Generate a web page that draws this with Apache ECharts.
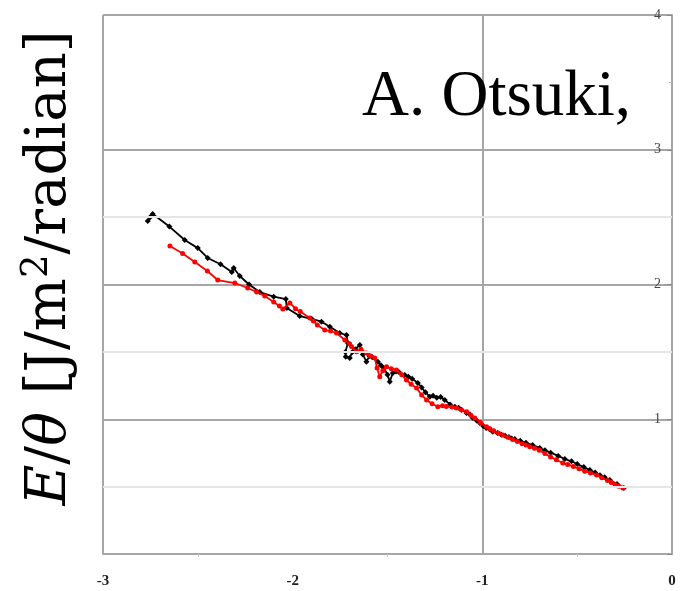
<!DOCTYPE html>
<html>
<head>
<meta charset="utf-8">
<script src="https://cdn.jsdelivr.net/npm/echarts@6/dist/echarts.min.js"></script>
<style>
  html, body { margin: 0; padding: 0; background: #fff; }
  #chart { width: 681px; height: 591px; }
</style>
</head>
<body>
<div id="chart"></div>
<script>
// Energy per rotation angle versus log scale position: two measured runs
const xTicks = [-3, -2, -1, 0];
const yTickLabels = [1, 2, 3, 4];
const halfLines = [0.5, 1.5, 2.5];

// black run [x, E/theta]
const blackRun = [
  [-2.764, 2.471], [-2.752, 2.500], [-2.738, 2.523], [-2.650, 2.430], [-2.569, 2.330],
  [-2.500, 2.270], [-2.448, 2.197], [-2.380, 2.150], [-2.321, 2.093], [-2.311, 2.122],
  [-2.279, 2.063], [-2.230, 2.000], [-2.174, 1.944], [-2.100, 1.910], [-2.036, 1.892],
  [-2.031, 1.826], [-1.963, 1.766], [-1.900, 1.745], [-1.848, 1.724], [-1.804, 1.687],
  [-1.752, 1.640], [-1.716, 1.625], [-1.709, 1.566], [-1.722, 1.500], [-1.720, 1.464],
  [-1.699, 1.455], [-1.685, 1.500], [-1.670, 1.520], [-1.646, 1.551], [-1.630, 1.480],
  [-1.611, 1.427], [-1.595, 1.470], [-1.580, 1.460], [-1.551, 1.427], [-1.535, 1.400],
  [-1.520, 1.380], [-1.500, 1.330], [-1.488, 1.279], [-1.472, 1.343], [-1.455, 1.355],
  [-1.440, 1.350], [-1.409, 1.328], [-1.390, 1.315], [-1.370, 1.300], [-1.340, 1.269],
  [-1.320, 1.235], [-1.300, 1.200], [-1.277, 1.167], [-1.260, 1.175], [-1.240, 1.160],
  [-1.220, 1.165], [-1.198, 1.143], [-1.170, 1.110], [-1.145, 1.093], [-1.125, 1.085],
  [-1.110, 1.070], [-1.083, 1.046], [-1.065, 1.035], [-1.050, 1.010], [-1.030, 0.990],
  [-1.013, 0.972], [-0.995, 0.950], [-0.980, 0.935], [-0.962, 0.925], [-0.945, 0.908],
  [-0.920, 0.898], [-0.900, 0.885], [-0.880, 0.878], [-0.860, 0.868], [-0.845, 0.858],
  [-0.829, 0.853], [-0.800, 0.840], [-0.770, 0.825], [-0.735, 0.808], [-0.697, 0.787],
  [-0.670, 0.770], [-0.640, 0.752], [-0.600, 0.728], [-0.565, 0.705], [-0.530, 0.688],
  [-0.500, 0.668], [-0.465, 0.645], [-0.433, 0.623], [-0.405, 0.605], [-0.380, 0.585],
  [-0.355, 0.570], [-0.328, 0.549], [-0.290, 0.520], [-0.254, 0.490]
];

// red run [x, E/theta]
const redRun = [
  [-2.647, 2.286], [-2.580, 2.230], [-2.516, 2.167], [-2.450, 2.100], [-2.395, 2.033],
  [-2.305, 2.011], [-2.237, 1.974], [-2.190, 1.945], [-2.147, 1.915], [-2.100, 1.870],
  [-2.070, 1.840], [-2.052, 1.818], [-2.015, 1.863], [-1.985, 1.820], [-1.960, 1.800],
  [-1.910, 1.751], [-1.890, 1.730], [-1.870, 1.700], [-1.831, 1.662], [-1.800, 1.655],
  [-1.769, 1.640], [-1.725, 1.588], [-1.700, 1.560], [-1.690, 1.540], [-1.663, 1.501],
  [-1.640, 1.520], [-1.611, 1.492], [-1.590, 1.470], [-1.567, 1.455], [-1.555, 1.380],
  [-1.541, 1.316], [-1.525, 1.360], [-1.505, 1.390], [-1.480, 1.375], [-1.453, 1.366],
  [-1.425, 1.330], [-1.400, 1.291], [-1.375, 1.260], [-1.347, 1.232], [-1.320, 1.180],
  [-1.294, 1.143], [-1.265, 1.115], [-1.235, 1.093], [-1.210, 1.100], [-1.190, 1.095],
  [-1.160, 1.090], [-1.136, 1.084], [-1.110, 1.068], [-1.083, 1.056], [-1.060, 1.030],
  [-1.040, 1.009], [-1.010, 0.975], [-0.978, 0.945], [-0.960, 0.930], [-0.940, 0.915],
  [-0.915, 0.898], [-0.892, 0.883], [-0.865, 0.866], [-0.840, 0.850], [-0.815, 0.835],
  [-0.790, 0.818], [-0.770, 0.808], [-0.750, 0.796], [-0.725, 0.785], [-0.700, 0.770],
  [-0.670, 0.745], [-0.640, 0.720], [-0.610, 0.700], [-0.576, 0.675], [-0.550, 0.665],
  [-0.520, 0.650], [-0.490, 0.632], [-0.460, 0.615], [-0.430, 0.602], [-0.398, 0.586],
  [-0.370, 0.565], [-0.340, 0.545], [-0.320, 0.530], [-0.300, 0.515], [-0.280, 0.502],
  [-0.259, 0.490]
];

const gridGray = '#a6a6a6';
const lightGray = '#e6e6e6';

const chart = echarts.init(document.getElementById('chart'), null, { renderer: 'canvas' });

chart.setOption({
  animation: false,
  backgroundColor: '#fff',
  grid: { left: 103, right: 9, top: 15, bottom: 37 },
  xAxis: [
    {
      type: 'value',
      min: xTicks[0],
      max: xTicks[xTicks.length - 1],
      interval: 1,
      axisLine: { show: true, lineStyle: { color: gridGray, width: 2 } },
      axisTick: { show: false },
      minorTick: { show: true, splitNumber: 2, length: 3, lineStyle: { color: '#cccccc' } },
      splitLine: { show: false },
      axisLabel: {
        margin: 20,
        fontFamily: 'Liberation Serif',
        fontWeight: 'bold',
        fontSize: 15,
        color: '#222',
        formatter: v => (xTicks.includes(v) ? String(v).replace('-', '\u2011') : '')
      }
    },
    {
      // vertical rules at -3 and -1
      type: 'value',
      min: xTicks[0],
      max: xTicks[xTicks.length - 1],
      interval: 2,
      position: 'bottom',
      axisLine: { show: false },
      axisTick: { show: false },
      axisLabel: { show: false },
      splitLine: { show: true, lineStyle: { color: gridGray, width: 2 } }
    }
  ],
  yAxis: {
    type: 'value',
    min: 0,
    max: 4,
    interval: 1,
    position: 'right',
    axisLine: { show: true, lineStyle: { color: gridGray, width: 2 } },
    axisTick: { show: true, inside: true, length: 5, lineStyle: { color: '#888' } },
    minorTick: { show: true, splitNumber: 2, length: 3, lineStyle: { color: '#bbbbbb' } },
    splitLine: { show: true, lineStyle: { color: gridGray, width: 2 } },
    axisLabel: {
      inside: true,
      margin: 11,
      fontFamily: 'Liberation Serif',
      fontSize: 14,
      color: '#444',
      formatter: v => (yTickLabels.includes(v) ? String(v) : '')
    }
  },
  series: [
    {
      name: 'black',
      type: 'line',
      data: blackRun,
      symbol: 'diamond',
      symbolSize: 6,
      showSymbol: true,
      lineStyle: { color: '#000', width: 1.8 },
      itemStyle: { color: '#000' },
      z: 3,
      markLine: {
        silent: true,
        symbol: 'none',
        label: { show: false },
        lineStyle: { color: lightGray, width: 2, type: 'solid' },
        data: halfLines.map(v => ({ yAxis: v }))
      }
    },
    {
      name: 'red',
      type: 'line',
      data: redRun,
      symbol: 'circle',
      symbolSize: 5,
      showSymbol: true,
      lineStyle: { color: '#ff0000', width: 1.8 },
      itemStyle: { color: '#ff0000' },
      z: 4
    }
  ],
  graphic: [
    {
      type: 'text',
      x: 362,
      y: 98,
      z: 10,
      style: {
        text: 'A. Otsuki,',
        fontFamily: 'Liberation Serif',
        fontSize: 65,
        fill: '#000',
        align: 'left',
        verticalAlign: 'middle'
      }
    },
    {
      type: 'text',
      x: 50,
      y: 268,
      rotation: Math.PI / 2,
      z: 10,
      style: {
        text: '{it|E}{n|/}{it|θ}{n| [J/m}{sup|2}{n|/radian]}',
        align: 'center',
        verticalAlign: 'middle',
        fill: '#000',
        rich: {
          it: { fontFamily: 'DejaVu Serif', fontStyle: 'italic', fontSize: 56, lineHeight: 62 },
          n: { fontFamily: 'DejaVu Serif', fontSize: 56, lineHeight: 62 },
          sup: { fontFamily: 'DejaVu Serif', fontSize: 37, lineHeight: 37, verticalAlign: 'top' }
        }
      }
    }
  ]
});
</script>
</body>
</html>
